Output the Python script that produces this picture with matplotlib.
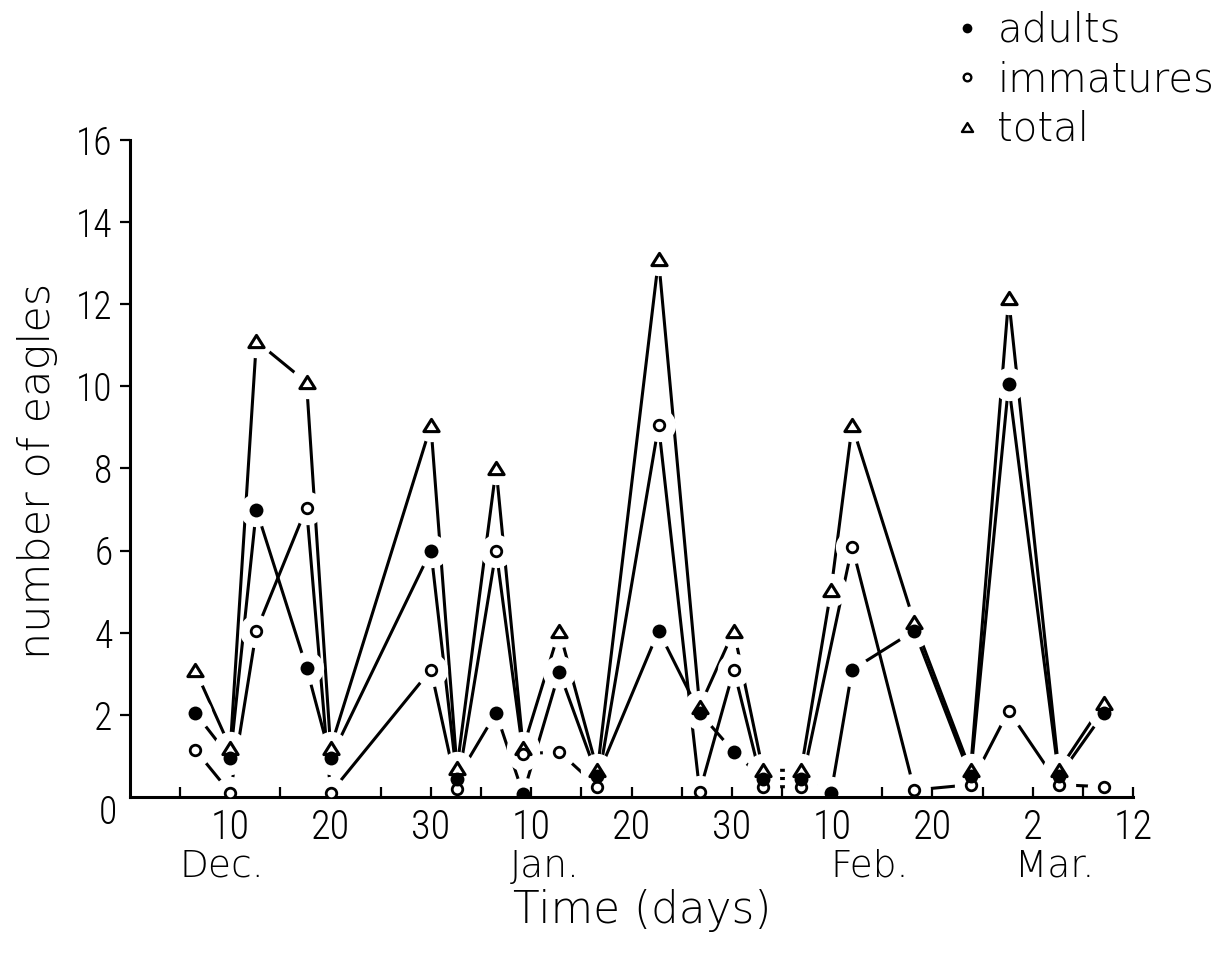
import matplotlib
matplotlib.use("Agg")
import matplotlib.pyplot as plt
import matplotlib.font_manager as fm
from matplotlib.path import Path
from matplotlib.lines import Line2D

# ---------------- data ----------------
days = [6.5, 10, 12.6, 17.6, 20, 30, 32.6, 36.5, 39.2, 42.8, 46.6, 52.7,
        56.8, 60.2, 63.1, 66.9, 69.9, 72, 78.2, 83.8, 87.6, 92.6, 97.1]
total = [3.1, 1.2, 11.1, 10.1, 1.2, 9.05, 0.7, 8.0, 1.2, 4.05, 0.65, 13.1,
         2.2, 4.05, 0.65, 0.65, 5.05, 9.05, 4.25, 0.65, 12.15, 0.65, 2.3]
adults = [2.05, 0.95, 7.0, 3.15, 0.95, 6.0, 0.45, 2.05, 0.07, 3.05, 0.5, 4.05,
          2.05, 1.1, 0.45, 0.45, 0.1, 3.1, 4.05, 0.5, 10.05, 0.5, 2.05]
imm_days = [6.5, 10, 12.6, 17.6, 20, 30, 32.6, 36.5, 39.2, 42.8, 46.6, 52.7,
            56.8, 60.2, 63.1, 66.9, 72, 78.2, 83.8, 87.6, 92.6, 97.1]
immatures = [1.15, 0.1, 4.05, 7.05, 0.1, 3.1, 0.2, 6.0, 1.05, 1.1, 0.25, 9.05,
             0.13, 3.1, 0.25, 0.25, 6.1, 0.17, 0.3, 2.1, 0.3, 0.25]

x_tick_pos = [10, 20, 30, 40, 50, 60, 70, 80, 90, 100]
x_tick_labels = ["10", "20", "30", "10", "20", "30", "10", "20", "2", "12"]
x_minor_pos = [5, 15, 25, 35, 45, 55, 65, 75, 85, 95]
y_tick_pos = [2, 4, 6, 8, 10, 12, 14, 16]
months = ["Dec.", "Jan.", "Feb.", "Mar."]
month_x_px = [222, 545, 870, 1055]
series_labels = ["adults", "immatures", "total"]

# ---------------- fonts ----------------
avail = {f.name for f in fm.fontManager.ttflist}
NUMFONT = "DejaVu Sans"
for cand in ["Roboto Condensed", "Liberation Sans Narrow", "Roboto", "DejaVu Sans"]:
    if cand in avail:
        NUMFONT = cand
        break
WORDFONT = ["DejaVu Sans"]
plt.rcParams["font.family"] = [NUMFONT, "DejaVu Sans"]
plt.rcParams["font.weight"] = "light"

W, H = 1227, 955
fig = plt.figure(figsize=(W / 100, H / 100), dpi=100)
fig.patch.set_facecolor("white")

x0, x1, y0, y1 = 130, 1133, 797, 140
ax = fig.add_axes([x0 / W, (H - y0) / H, (x1 - x0) / W, (y0 - y1) / H])
ax.set_xlim(0, 100)
ax.set_ylim(0, 16)
ax.set_axisbelow(False)

tri = Path([(0, 0.8), (-1, -0.8), (1, -0.8), (0, 0.8)],
           [Path.MOVETO, Path.LINETO, Path.LINETO, Path.CLOSEPOLY])

LW = 2.2
series = [(days, total), (days, adults), (imm_days, immatures)]
# lines
for xs, ys in series:
    ax.plot(xs, ys, color="black", lw=LW, zorder=2, solid_capstyle="butt")
# white halos -> gaps between lines and markers (hand-drawn look)
for xs, ys in series:
    ax.plot(xs, ys, linestyle="none", marker="o", markersize=24,
            color="white", markerfacecolor="white", markeredgecolor="white",
            markeredgewidth=0, zorder=2.3)
# markers
ax.plot(days, total, linestyle="none", marker=tri, markersize=11,
        markerfacecolor="white", markeredgecolor="black", markeredgewidth=2.2, zorder=3)
ax.plot(imm_days, immatures, linestyle="none", marker="o", markersize=7.6,
        markerfacecolor="white", markeredgecolor="black", markeredgewidth=2.0, zorder=3.1)
ax.plot(days, adults, linestyle="none", marker="o", markersize=10,
        markerfacecolor="black", markeredgewidth=0, zorder=3.2)

# spines
for s in ["top", "right"]:
    ax.spines[s].set_visible(False)
for s in ["left", "bottom"]:
    ax.spines[s].set_linewidth(2.2)
    ax.spines[s].set_zorder(2.6)

ax.set_xticks(x_tick_pos)
ax.set_xticklabels(x_tick_labels)
ax.set_xticks(x_minor_pos, minor=True)
ax.tick_params(axis="x", which="both", direction="in", length=7.5, width=1.6,
               labelsize=29, pad=8)
ax.set_yticks(y_tick_pos)
ax.set_yticklabels([str(v) for v in y_tick_pos])
ax.tick_params(axis="y", which="both", direction="out", length=7.5, width=1.6,
               labelsize=27, pad=5)

# origin label
fig.text(108 / W, 1 - 813 / H, "0", ha="center", va="center", fontsize=27)

# month labels and axis titles
for m, px in zip(months, month_x_px):
    fig.text(px / W, 1 - 866 / H, m, ha="center", va="center", fontsize=27,
             family=WORDFONT)
fig.text(642 / W, 1 - 910 / H, "Time (days)", ha="center", va="center",
         fontsize=31.5, family=WORDFONT)
fig.text(38 / W, 1 - 471 / H, "number of eagles", ha="center", va="center",
         rotation=90, fontsize=31, family=WORDFONT)

# legend
handles = [
    Line2D([], [], linestyle="none", marker="o", markersize=7,
           markerfacecolor="black", markeredgewidth=0),
    Line2D([], [], linestyle="none", marker="o", markersize=5.5,
           markerfacecolor="white", markeredgecolor="black", markeredgewidth=1.7),
    Line2D([], [], linestyle="none", marker=tri, markersize=8,
           markerfacecolor="white", markeredgecolor="black", markeredgewidth=1.7),
]
ax.legend(handles, series_labels, loc="upper left",
          bbox_to_anchor=(955 / W, 1 - 11 / H), bbox_transform=fig.transFigure,
          frameon=False, prop={"family": WORDFONT, "size": 29, "weight": "light"},
          handlelength=0.6, handletextpad=0.45,
          labelspacing=0.26, borderpad=0, borderaxespad=0)

fig.savefig("out.png", dpi=100, facecolor="white")
